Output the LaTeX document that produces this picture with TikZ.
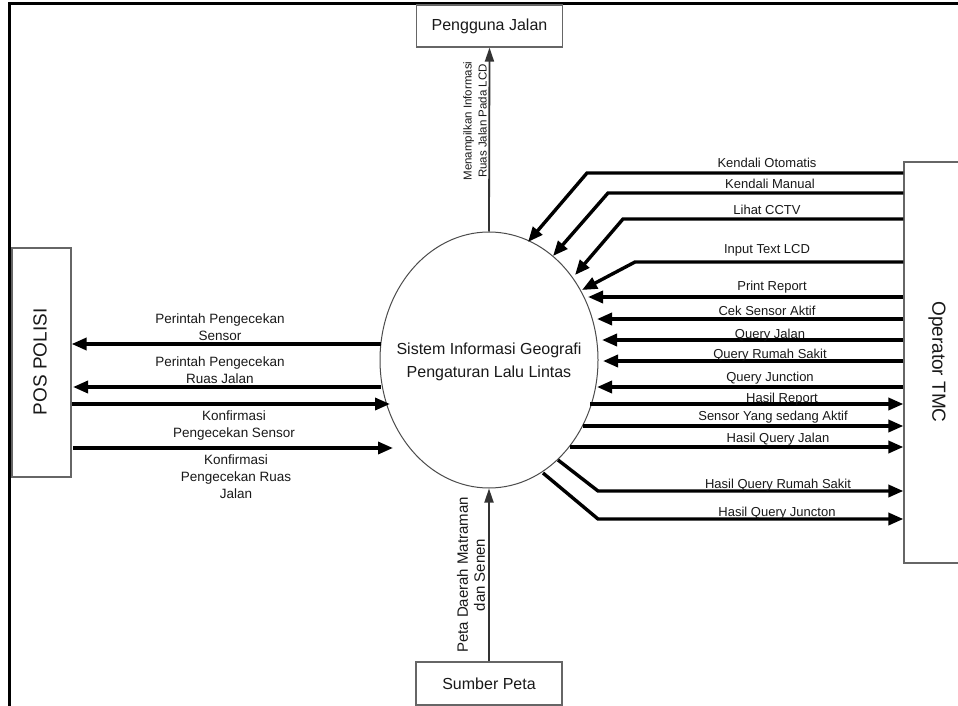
\documentclass[tikz,border=0pt]{standalone}
\usepackage{fontspec}
\setmainfont{Liberation Sans}
\usetikzlibrary{arrows.meta,shapes.geometric}
\begin{document}
\begin{tikzpicture}[x=1pt,y=-1pt,
 box/.style={draw=black!60, line width=1.2pt, inner sep=0pt, fill=white},
 flow/.style={line width=3.4pt, -{Triangle[length=15pt,width=12pt]}},
 vflow/.style={draw=black!80, line width=1.8pt, -{Triangle[length=14pt,width=9pt]}},
 lbl/.style={font=\fontsize{13}{17}\selectfont, inner sep=0pt, text=black!90, anchor=base},
 mlbl/.style={font=\fontsize{13.5}{17}\selectfont, inner sep=0pt, text=black!90, align=center},
 bigtxt/.style={font=\fontsize{16}{19}\selectfont, text=black!90},
 sidetxt/.style={font=\fontsize{19}{22}\selectfont, text=black!90, inner sep=0pt},
]
\clip (0,0) rectangle (958,706);
\fill[white] (0,0) rectangle (958,706);
\draw[line width=3pt] (9,4) -- (958,4);
\draw[line width=3pt] (9,2.5) -- (9,706);

% entities
\node[box, bigtxt, minimum width=146pt, minimum height=42pt] (pj) at (489.5,26) {Pengguna Jalan};
\node[box, bigtxt, minimum width=146pt, minimum height=43pt] (sp) at (489,683.5) {Sumber Peta};
\node[box, minimum width=66pt, minimum height=401pt] (tmc) at (937,362.5) {};
\node[sidetxt, rotate=-90] (tmct) at (937,362) {Operator TMC};
\node[box, minimum width=59pt, minimum height=229pt] (pos) at (41.5,362.5) {};
\node[sidetxt, rotate=90] (post) at (40,362) {POS POLISI};

% process
\node[draw=black!70, line width=1pt, ellipse, minimum width=218pt, minimum height=256pt, inner sep=0pt] (sig) at (489,360) {};
\node[font=\fontsize{16}{23}\selectfont, text=black!90, align=center, inner sep=0pt] (sigt) at (489,362)
      {Sistem Informasi Geografi\\Pengaturan Lalu Lintas};

% vertical flows
\draw[vflow] (sig.north) -- (pj.south);
\draw[vflow] (sp.north) -- (sig.south);
\node[font=\fontsize{11.5}{15}\selectfont, text=black!90, align=center, rotate=90, inner sep=0pt] (lt) at (475,121)
  {Menampilkan Informasi\\Ruas Jalan Pada LCD};
\node[font=\fontsize{15}{17}\selectfont, text=black!90, align=center, rotate=90, inner sep=0pt] (lb) at (471,575)
  {Peta Daerah Matraman\\dan Senen};

% left flows
\draw[flow] (381,344) -- (pos.east |- 0,344);
\draw[flow] (381,387) -- (73,387);
\draw[flow] (pos.east |- 0,404) -- (390,404);
\draw[flow] (73,448) -- (393,448);
\node[mlbl] (ll1) at (220,327) {Perintah Pengecekan\\Sensor};
\node[mlbl] (ll2) at (220,370) {Perintah Pengecekan\\Ruas Jalan};
\node[mlbl] (ll3) at (234,426) {Konfirmasi\\Pengecekan Sensor};
\node[mlbl] (ll4) at (236,477) {Konfirmasi\\Pengecekan Ruas\\Jalan};

% right incoming flows
\draw[flow] (tmc.west |- 0,173) -- (587,173) -- (528,242);
\draw[flow] (tmc.west |- 0,193) -- (608,193) -- (553,256);
\draw[flow] (tmc.west |- 0,219) -- (623,219) -- (575,275);
\draw[flow] (tmc.west |- 0,262) -- (635,262) -- (582,290);
\draw[flow] (tmc.west |- 0,297) -- (588,297);
\draw[flow] (tmc.west |- 0,319) -- (597,319);
\draw[flow] (tmc.west |- 0,340) -- (602,340);
\draw[flow] (tmc.west |- 0,361) -- (603,361);
\draw[flow] (tmc.west |- 0,387) -- (597,387);
% right outgoing flows
\draw[flow] (590,404) -- (tmc.west |- 0,404);
\draw[flow] (583,426) -- (tmc.west |- 0,426);
\draw[flow] (570,447) -- (tmc.west |- 0,447);
\draw[flow] (558,460) -- (598,491) -- (tmc.west |- 0,491);
\draw[flow] (543,473) -- (598,519) -- (tmc.west |- 0,519);

\node[lbl] (r1) at (767,167) {Kendali Otomatis};
\node[lbl] (r2) at (770,188) {Kendali Manual};
\node[lbl] (r3) at (767,214) {Lihat CCTV};
\node[lbl] (r4) at (767,253) {Input Text LCD};
\node[lbl] (r5) at (772,290) {Print Report};
\node[lbl] (r6) at (767,315) {Cek Sensor Aktif};
\node[lbl] (r7) at (770,338) {Query Jalan};
\node[lbl] (r8) at (770,358) {Query Rumah Sakit};
\node[lbl] (r9) at (770,381) {Query Junction};
\node[lbl] (r10) at (782,402) {Hasil Report};
\node[lbl] (r11) at (773,420) {Sensor Yang sedang Aktif};
\node[lbl] (r12) at (778,442) {Hasil Query Jalan};
\node[lbl] (r13) at (778,488) {Hasil Query Rumah Sakit};
\node[lbl] (r14) at (777,516) {Hasil Query Juncton};
\end{tikzpicture}
\end{document}
